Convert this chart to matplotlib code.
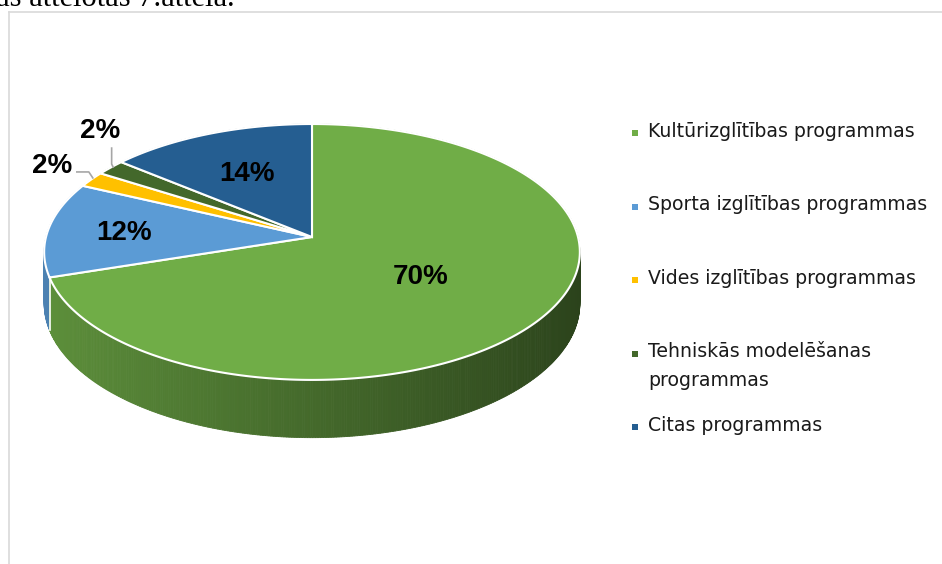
import numpy as np
import matplotlib
matplotlib.use("Agg")
import matplotlib.pyplot as plt
from matplotlib.patches import Polygon, Rectangle
from matplotlib.colors import to_rgb

# ---------------- data ----------------
categories = ["Kultūrizglītības programmas",
              "Sporta izglītības programmas",
              "Vides izglītības programmas",
              "Tehniskās modelēšanas\nprogrammas",
              "Citas programmas"]
values = [70, 12, 2, 2, 14]
labels = ["70%", "12%", "2%", "2%", "14%"]
colors = ["#70AD47", "#5B9BD5", "#FFC000", "#43682B", "#255E91"]
caption = "as attēlotas 7.attēlā."

# ---------------- layout ----------------
W, H = 942, 564
CX, CY = 312, 237          # projected pie centre (pixels)
A, B = 266, 126.2          # horizontal / vertical radii
DR = 8.55                  # perspective distance (in radii)
DEPTH = 51                 # pie thickness
label_r = [0.49, 0.71, None, None, 0.61]

fig = plt.figure(figsize=(W / 100, H / 100), dpi=100)
ax = fig.add_axes([0, 0, 1, 1])
ax.set_xlim(0, W)
ax.set_ylim(H, 0)
ax.axis("off")


def proj(t_deg, r=1.0, depth=0.0):
    t = np.radians(t_deg)
    s = 1.0 / (1.0 + r * np.cos(t) / DR)
    x = CX + A * r * np.sin(t) * s
    y = CY - B * r * np.cos(t) * s + depth * s
    return x, y


def shade(col, t_deg):
    f = 0.61 - 0.23 * np.sin(np.radians(t_deg))
    r, g, b = to_rgb(col)
    return (r * f, g * f, b * f)


total = float(sum(values))
bounds = np.concatenate([[0], np.cumsum(values)]) / total * 360.0

# ---- side wall (back first) ----
strips = []
for i in range(len(values)):
    a0, a1 = bounds[i], bounds[i + 1]
    n = max(2, int((a1 - a0) / 0.5))
    ts = np.linspace(a0, a1, n + 1)
    for k in range(n):
        t0, t1 = ts[k], ts[k + 1]
        tm = 0.5 * (t0 + t1)
        strips.append((np.cos(np.radians(tm)), i, t0, t1, tm))
strips.sort(key=lambda s: -s[0])
for _, i, t0, t1, tm in strips:
    p0 = proj(t0); p1 = proj(t1)
    q1 = proj(t1, depth=DEPTH); q0 = proj(t0, depth=DEPTH)
    c = shade(colors[i], tm)
    ax.add_patch(Polygon([p0, p1, q1, q0], closed=True, facecolor=c,
                         edgecolor=c, lw=0.6, zorder=2))

# white divider on side where slice boundaries are in front
for b_ang in bounds[1:-1]:
    if np.cos(np.radians(b_ang)) < 0:
        x0, y0 = proj(b_ang)
        x1, y1 = proj(b_ang, depth=DEPTH)
        ax.plot([x0, x1], [y0, y1], color="white", lw=1.2, zorder=3)

# ---- top face ----
for i in range(len(values)):
    a0, a1 = bounds[i], bounds[i + 1]
    ts = np.linspace(a0, a1, max(3, int((a1 - a0) * 2)))
    pts = [(CX, CY)] + [proj(t) for t in ts]
    ax.add_patch(Polygon(pts, closed=True, facecolor=colors[i],
                         edgecolor="white", lw=1.5, joinstyle="miter", zorder=4))

# ---- data labels ----
lab_font = dict(family=["Liberation Sans", "DejaVu Sans"], fontsize=20,
                fontweight="bold", color="black", ha="center", va="center",
                zorder=6)
for i in range(len(values)):
    mid = 0.5 * (bounds[i] + bounds[i + 1])
    if label_r[i] is not None:
        x, y = proj(mid, r=label_r[i])
        ax.text(x, y + 2, labels[i], **lab_font)

# outside labels with leader lines (Vides, Tehniskās)
mid2 = 0.5 * (bounds[2] + bounds[3])
ex, ey = proj(mid2, r=1.0)
ax.plot([ex + 1.5, ex - 2.5, ex - 14.5], [ey - 1.5, ey - 7.5, ey - 7.5],
        color="#A6A6A6", lw=1.2, zorder=5)
ax.text(ex - 39.5, ey - 13.5, labels[2], **lab_font)

mid3 = 0.5 * (bounds[3] + bounds[4])
ex, ey = proj(mid3, r=1.0)
ax.plot([ex + 2.5, ex + 1, ex + 1], [ey - 0.5, ey - 3.5, ey - 19.5],
        color="#A6A6A6", lw=1.2, zorder=5)
ax.text(ex - 10.5, ey - 36.5, labels[3], **lab_font)

# ---- legend ----
leg_x, leg_base0, leg_dy, line_dy = 635, 136.7, 73.5, 28.3
for i, cat in enumerate(categories):
    base = leg_base0 + i * leg_dy
    ax.add_patch(Rectangle((leg_x - 3, base - 6.5), 6, 6, facecolor=colors[i],
                           edgecolor="none", zorder=5))
    for k, line in enumerate(cat.split("\n")):
        ax.text(648, base + k * line_dy, line,
                family=["DejaVu Sans"], fontsize=13.6, color="#1a1a1a",
                ha="left", va="baseline", zorder=5)

# ---- frame and caption ----
ax.plot([8.5, 8.5], [H, 11.5], color="#D9D9D9", lw=1.2, zorder=1)
ax.plot([8.5, W], [11.5, 11.5], color="#D9D9D9", lw=1.2, zorder=1)
ax.text(-4.5, 6.5, caption, family=["Liberation Serif", "DejaVu Serif"],
        fontsize=22, color="black", ha="left", va="baseline", zorder=1)

fig.savefig("out.png", dpi=100)
